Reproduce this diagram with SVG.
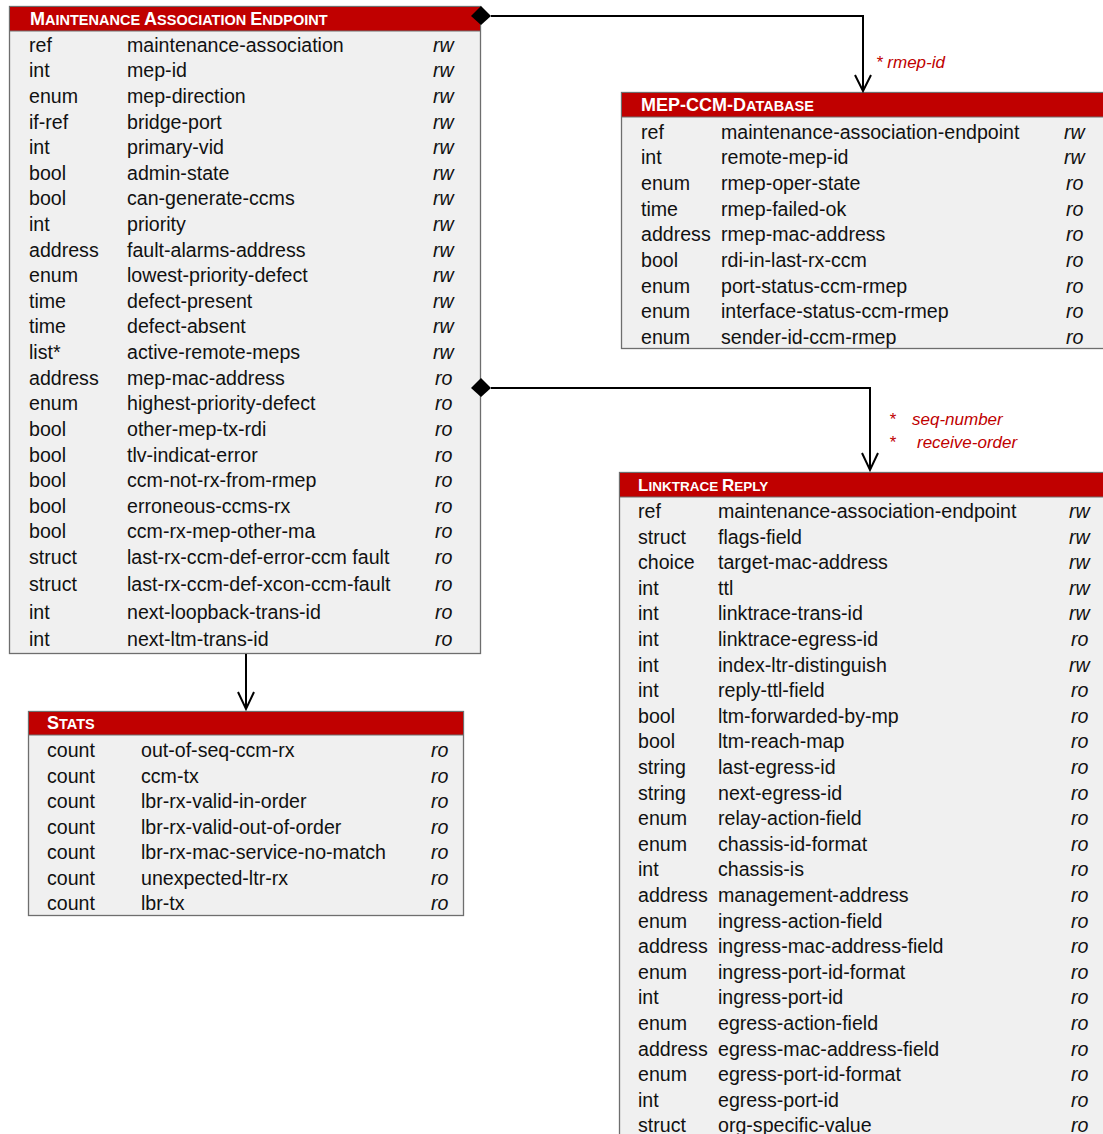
<svg xmlns="http://www.w3.org/2000/svg" width="1103" height="1134" viewBox="0 0 1103 1134">
<style>
.box{fill:#F0F0F0;stroke:#6E6E6E;stroke-width:1.3}
.hdr{fill:#C00000;stroke:#6E6E6E;stroke-width:1}
.ht{font-family:"Liberation Sans",Arial,sans-serif;font-weight:bold;fill:#FFFFFF;font-size:18px}
.sc{font-size:14.5px}
.ht2{font-size:17px}
.sc2{font-size:13.5px}
.t{font-family:"Liberation Sans",Arial,sans-serif;font-size:19.6px;fill:#111111}
.a{font-family:"Liberation Sans",Arial,sans-serif;font-size:19.6px;font-style:italic;fill:#111111}
.lbl{font-family:"Liberation Sans",Arial,sans-serif;font-size:17px;font-style:italic;fill:#C00000}
.ln{fill:none;stroke:#000;stroke-width:2}
.dm{fill:#000}
</style>
<g id="mae">
<rect class="box" x="9.5" y="6.5" width="471" height="647"/>
<rect class="hdr" x="9.5" y="6.5" width="471" height="24.5"/>
<text class="ht" x="30" y="25">M<tspan class="sc">AINTENANCE </tspan>A<tspan class="sc">SSOCIATION </tspan>E<tspan class="sc">NDPOINT</tspan></text>
<g class="t">
<text x="29" y="52">ref</text><text x="127" y="52">maintenance-association</text>
<text x="29" y="77">int</text><text x="127" y="77">mep-id</text>
<text x="29" y="103">enum</text><text x="127" y="103">mep-direction</text>
<text x="29" y="129">if-ref</text><text x="127" y="129">bridge-port</text>
<text x="29" y="154">int</text><text x="127" y="154">primary-vid</text>
<text x="29" y="180">bool</text><text x="127" y="180">admin-state</text>
<text x="29" y="205">bool</text><text x="127" y="205">can-generate-ccms</text>
<text x="29" y="231">int</text><text x="127" y="231">priority</text>
<text x="29" y="257">address</text><text x="127" y="257">fault-alarms-address</text>
<text x="29" y="282">enum</text><text x="127" y="282">lowest-priority-defect</text>
<text x="29" y="308">time</text><text x="127" y="308">defect-present</text>
<text x="29" y="333">time</text><text x="127" y="333">defect-absent</text>
<text x="29" y="359">list*</text><text x="127" y="359">active-remote-meps</text>
<text x="29" y="385">address</text><text x="127" y="385">mep-mac-address</text>
<text x="29" y="410">enum</text><text x="127" y="410">highest-priority-defect</text>
<text x="29" y="436">bool</text><text x="127" y="436">other-mep-tx-rdi</text>
<text x="29" y="462">bool</text><text x="127" y="462">tlv-indicat-error</text>
<text x="29" y="487">bool</text><text x="127" y="487">ccm-not-rx-from-rmep</text>
<text x="29" y="513">bool</text><text x="127" y="513">erroneous-ccms-rx</text>
<text x="29" y="538">bool</text><text x="127" y="538">ccm-rx-mep-other-ma</text>
<text x="29" y="564">struct</text><text x="127" y="564">last-rx-ccm-def-error-ccm fault</text>
<text x="29" y="591">struct</text><text x="127" y="591">last-rx-ccm-def-xcon-ccm-fault</text>
<text x="29" y="619">int</text><text x="127" y="619">next-loopback-trans-id</text>
<text x="29" y="646">int</text><text x="127" y="646">next-ltm-trans-id</text>
</g>
<g class="a">
<text x="433" y="52">rw</text><text x="433" y="77">rw</text><text x="433" y="103">rw</text><text x="433" y="129">rw</text>
<text x="433" y="154">rw</text><text x="433" y="180">rw</text><text x="433" y="205">rw</text><text x="433" y="231">rw</text>
<text x="433" y="257">rw</text><text x="433" y="282">rw</text><text x="433" y="308">rw</text><text x="433" y="333">rw</text>
<text x="433" y="359">rw</text>
<text x="435" y="385">ro</text><text x="435" y="410">ro</text><text x="435" y="436">ro</text><text x="435" y="462">ro</text>
<text x="435" y="487">ro</text><text x="435" y="513">ro</text><text x="435" y="538">ro</text><text x="435" y="564">ro</text>
<text x="435" y="591">ro</text><text x="435" y="619">ro</text><text x="435" y="646">ro</text>
</g>
</g>
<g id="mep-ccm-database">
<rect class="box" x="621.5" y="92.5" width="490" height="256"/>
<rect class="hdr" x="621.5" y="92.5" width="490" height="24.5"/>
<text class="ht" x="641" y="111">MEP-CCM-D<tspan class="sc">ATABASE</tspan></text>
<g class="t">
<text x="641" y="139">ref</text><text x="721" y="139">maintenance-association-endpoint</text>
<text x="641" y="164">int</text><text x="721" y="164">remote-mep-id</text>
<text x="641" y="190">enum</text><text x="721" y="190">rmep-oper-state</text>
<text x="641" y="216">time</text><text x="721" y="216">rmep-failed-ok</text>
<text x="641" y="241">address</text><text x="721" y="241">rmep-mac-address</text>
<text x="641" y="267">bool</text><text x="721" y="267">rdi-in-last-rx-ccm</text>
<text x="641" y="293">enum</text><text x="721" y="293">port-status-ccm-rmep</text>
<text x="641" y="318">enum</text><text x="721" y="318">interface-status-ccm-rmep</text>
<text x="641" y="344">enum</text><text x="721" y="344">sender-id-ccm-rmep</text>
</g>
<g class="a">
<text x="1064" y="139">rw</text><text x="1064" y="164">rw</text>
<text x="1066" y="190">ro</text><text x="1066" y="216">ro</text><text x="1066" y="241">ro</text><text x="1066" y="267">ro</text>
<text x="1066" y="293">ro</text><text x="1066" y="318">ro</text><text x="1066" y="344">ro</text>
</g>
</g>
<g id="linktrace-reply">
<rect class="box" x="619.5" y="472.5" width="492" height="680"/>
<rect class="hdr" x="619.5" y="472.5" width="492" height="24.5"/>
<text class="ht ht2" x="638" y="491">L<tspan class="sc2">INKTRACE </tspan>R<tspan class="sc2">EPLY</tspan></text>
<g class="t">
<text x="638" y="518">ref</text><text x="718" y="518">maintenance-association-endpoint</text>
<text x="638" y="544">struct</text><text x="718" y="544">flags-field</text>
<text x="638" y="569">choice</text><text x="718" y="569">target-mac-address</text>
<text x="638" y="595">int</text><text x="718" y="595">ttl</text>
<text x="638" y="620">int</text><text x="718" y="620">linktrace-trans-id</text>
<text x="638" y="646">int</text><text x="718" y="646">linktrace-egress-id</text>
<text x="638" y="672">int</text><text x="718" y="672">index-ltr-distinguish</text>
<text x="638" y="697">int</text><text x="718" y="697">reply-ttl-field</text>
<text x="638" y="723">bool</text><text x="718" y="723">ltm-forwarded-by-mp</text>
<text x="638" y="748">bool</text><text x="718" y="748">ltm-reach-map</text>
<text x="638" y="774">string</text><text x="718" y="774">last-egress-id</text>
<text x="638" y="800">string</text><text x="718" y="800">next-egress-id</text>
<text x="638" y="825">enum</text><text x="718" y="825">relay-action-field</text>
<text x="638" y="851">enum</text><text x="718" y="851">chassis-id-format</text>
<text x="638" y="876">int</text><text x="718" y="876">chassis-is</text>
<text x="638" y="902">address</text><text x="718" y="902">management-address</text>
<text x="638" y="928">enum</text><text x="718" y="928">ingress-action-field</text>
<text x="638" y="953">address</text><text x="718" y="953">ingress-mac-address-field</text>
<text x="638" y="979">enum</text><text x="718" y="979">ingress-port-id-format</text>
<text x="638" y="1004">int</text><text x="718" y="1004">ingress-port-id</text>
<text x="638" y="1030">enum</text><text x="718" y="1030">egress-action-field</text>
<text x="638" y="1056">address</text><text x="718" y="1056">egress-mac-address-field</text>
<text x="638" y="1081">enum</text><text x="718" y="1081">egress-port-id-format</text>
<text x="638" y="1107">int</text><text x="718" y="1107">egress-port-id</text>
<text x="638" y="1132">struct</text><text x="718" y="1132">org-specific-value</text>
</g>
<g class="a">
<text x="1069" y="518">rw</text><text x="1069" y="544">rw</text><text x="1069" y="569">rw</text><text x="1069" y="595">rw</text>
<text x="1069" y="620">rw</text><text x="1071" y="646">ro</text><text x="1069" y="672">rw</text><text x="1071" y="697">ro</text>
<text x="1071" y="723">ro</text><text x="1071" y="748">ro</text><text x="1071" y="774">ro</text><text x="1071" y="800">ro</text>
<text x="1071" y="825">ro</text><text x="1071" y="851">ro</text><text x="1071" y="876">ro</text><text x="1071" y="902">ro</text>
<text x="1071" y="928">ro</text><text x="1071" y="953">ro</text><text x="1071" y="979">ro</text><text x="1071" y="1004">ro</text>
<text x="1071" y="1030">ro</text><text x="1071" y="1056">ro</text><text x="1071" y="1081">ro</text><text x="1071" y="1107">ro</text>
<text x="1071" y="1132">ro</text>
</g>
</g>
<g id="stats">
<rect class="box" x="28.5" y="711.5" width="435" height="204"/>
<rect class="hdr" x="28.5" y="711.5" width="435" height="23.5"/>
<text class="ht" x="47" y="729">S<tspan class="sc">TATS</tspan></text>
<g class="t">
<text x="47" y="757">count</text><text x="141" y="757">out-of-seq-ccm-rx</text>
<text x="47" y="783">count</text><text x="141" y="783">ccm-tx</text>
<text x="47" y="808">count</text><text x="141" y="808">lbr-rx-valid-in-order</text>
<text x="47" y="834">count</text><text x="141" y="834">lbr-rx-valid-out-of-order</text>
<text x="47" y="859">count</text><text x="141" y="859">lbr-rx-mac-service-no-match</text>
<text x="47" y="885">count</text><text x="141" y="885">unexpected-ltr-rx</text>
<text x="47" y="910">count</text><text x="141" y="910">lbr-tx</text>
</g>
<g class="a">
<text x="431" y="757">ro</text><text x="431" y="783">ro</text><text x="431" y="808">ro</text><text x="431" y="834">ro</text>
<text x="431" y="859">ro</text><text x="431" y="885">ro</text><text x="431" y="910">ro</text>
</g>
</g>
<g id="connectors">
<polygon class="dm" points="471,16 481,6 491,16 481,25"/>
<polyline class="ln" points="491,16 863,16 863,91"/>
<polyline class="ln" points="855,75 863,91 871,75"/>
<text class="lbl" x="876" y="68">* rmep-id</text>
<polygon class="dm" points="471,388 481,378 491,388 481,397"/>
<polyline class="ln" points="491,388 870,388 870,470"/>
<polyline class="ln" points="862,453 870,470 878,453"/>
<text class="lbl" x="889" y="425">*</text>
<text class="lbl" x="912" y="425">seq-number</text>
<text class="lbl" x="889" y="448">*</text>
<text class="lbl" x="917" y="448">receive-order</text>
<polyline class="ln" points="246,654 246,709"/>
<polyline class="ln" points="238,692 246,709 254,692"/>
</g>
</svg>
